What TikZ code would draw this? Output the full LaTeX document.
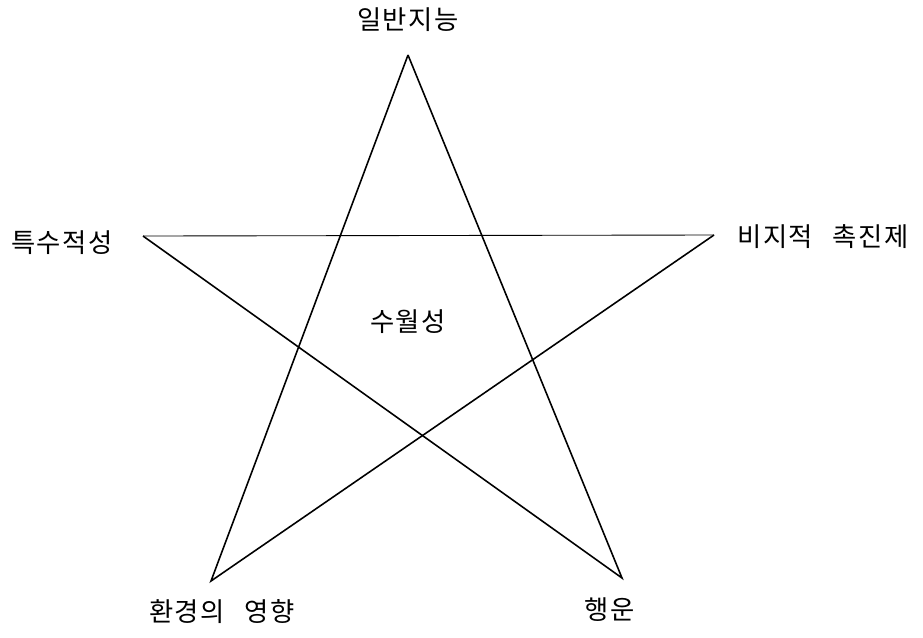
\documentclass[tikz,border=0pt]{standalone}
\usepackage{fontspec}
\setmainfont{Noto Sans CJK KR}[LetterSpace=6]
\usetikzlibrary{positioning}

\begin{document}
\begin{tikzpicture}[
    x=0.02cm, y=-0.02cm,
    lbl/.style={inner sep=1pt, font=\fontsize{15}{17}\selectfont},
    edge/.style={line width=0.9pt, black},
    thinedge/.style={line width=0.5pt, black}
]
\useasboundingbox (0,0) rectangle (923,637);

% star points
\coordinate (top) at (408,55);
\coordinate (lft) at (143,236);
\coordinate (rgt) at (714,235);
\coordinate (bl) at (211,581);
\coordinate (br) at (622,578);

% labels
\node[lbl] (gen) at (408,20) {일반지능};
\node[lbl] (spec) at (62,243) {특수적성};
\node[lbl] (nonint) at (823,237) {비지적\hspace{0.75em}촉진제};
\node[lbl] (env) at (222,612) {환경의\hspace{0.75em}영향};
\node[lbl] (luck) at (610,610) {행운};
\node[lbl] (exc) at (408,322) {수월성};

\draw[edge] (top) -- (bl) -- (rgt);
\draw[thinedge] (rgt) -- (lft);
\draw[edge] (lft) -- (br) -- (top);
\end{tikzpicture}
\end{document}
